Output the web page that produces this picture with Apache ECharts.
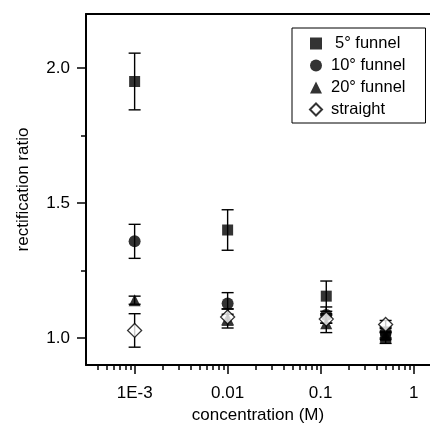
<!DOCTYPE html>
<html><head><meta charset="utf-8">
<script src="https://cdn.jsdelivr.net/npm/echarts@6/dist/echarts.min.js"></script>
<style>html,body{margin:0;padding:0;background:#fff}#c{width:430px;height:437px}</style>
</head><body><div id="c"></div>
<script>
// concentration (M)
const concentrations = [0.001, 0.01, 0.115, 0.5];
// rectification ratio values and error half-widths
const funnel5 = [1.95, 1.40, 1.155, 1.00];
const funnel5Err = [0.105, 0.075, 0.056, 0.02];
const funnel10 = [1.358, 1.128, 1.085, 1.02];
const funnel10Err = [0.063, 0.04, 0.03, 0.02];
const funnel20 = [1.14, 1.072, 1.055, 1.01];
const funnel20Err = [0.015, 0.035, 0.035, 0.015];
const straight = [1.028, 1.078, 1.07, 1.05];
const straightErr = [0.062, 0.03, 0.015, 0.015];
// ticks
const xMajorTicks = [0.001, 0.01, 0.1, 1];
const xTickLabels = ['1E-3', '0.01', '0.1', '1'];
const xMinorTicks = [0.0004, 0.0005, 0.0006, 0.0007, 0.0008, 0.0009,
  0.002, 0.003, 0.004, 0.005, 0.006, 0.007, 0.008, 0.009,
  0.02, 0.03, 0.04, 0.05, 0.06, 0.07, 0.08, 0.09,
  0.2, 0.3, 0.4, 0.5, 0.6, 0.7, 0.8, 0.9];
const yMajorTicks = [1.0, 1.5, 2.0];
const yMinorTicks = [1.25, 1.75];

const FONT = 'Liberation Sans, Arial, sans-serif';
const chart = echarts.init(document.getElementById('c'), null, {renderer: 'canvas'});

function errSeries(vals, errs) {
  return {
    type: 'custom', xAxisIndex: 0, yAxisIndex: 0, z: 1, silent: true,
    data: concentrations.map((c, i) => [c, vals[i] - errs[i], vals[i] + errs[i]]),
    encode: {x: 0, y: [1, 2]},
    renderItem: function (params, api) {
      const lo = api.coord([api.value(0), api.value(1)]);
      const hi = api.coord([api.value(0), api.value(2)]);
      const w = 6;
      const st = {stroke: '#000', lineWidth: 1.4};
      return {type: 'group', children: [
        {type: 'line', shape: {x1: lo[0], y1: lo[1], x2: hi[0], y2: hi[1]}, style: st},
        {type: 'line', shape: {x1: lo[0] - w, y1: lo[1], x2: lo[0] + w, y2: lo[1]}, style: st},
        {type: 'line', shape: {x1: hi[0] - w, y1: hi[1], x2: hi[0] + w, y2: hi[1]}, style: st}
      ]};
    }
  };
}
function pts(vals) { return concentrations.map((c, i) => [c, vals[i]]); }

function labelFor(v) {
  let best = 0, bd = Infinity;
  xMajorTicks.forEach((t, i) => { const d = Math.abs(Math.log10(v) - Math.log10(t)); if (d < bd) { bd = d; best = i; } });
  return bd < 1e-6 ? xTickLabels[best] : '';
}

const axisLineStyle = {color: '#000', width: 2};
const option = {
  animation: false,
  backgroundColor: '#fff',
  grid: {left: 86, top: 14, width: 353, height: 351, containLabel: false},
  xAxis: [
    {type: 'log', logBase: 10, min: 0.0003, max: 1.5, position: 'bottom',
      axisLine: {show: true, lineStyle: axisLineStyle},
      axisTick: {show: true, customValues: xMajorTicks, length: 9, lineStyle: {color: '#000', width: 1.5}},
      axisLabel: {customValues: xMajorTicks, formatter: labelFor, fontSize: 17, color: '#000', margin: 20, fontFamily: FONT},
      splitLine: {show: false}, minorTick: {show: false},
      name: 'concentration (M)', nameLocation: 'middle', nameGap: 35,
      nameTextStyle: {fontSize: 17, color: '#000', fontFamily: FONT}
    },
    {type: 'log', logBase: 10, min: 0.0003, max: 1.5, position: 'bottom',
      axisLine: {show: false},
      axisTick: {show: true, customValues: xMinorTicks, length: 5, lineStyle: {color: '#000', width: 1.5}},
      axisLabel: {show: false}, splitLine: {show: false}
    },
    {type: 'log', logBase: 10, min: 0.0003, max: 1.5, position: 'top',
      axisLine: {show: true, lineStyle: axisLineStyle},
      axisTick: {show: false}, axisLabel: {show: false}, splitLine: {show: false}
    }
  ],
  yAxis: [
    {type: 'value', min: 0.9, max: 2.2, position: 'left',
      axisLine: {show: true, lineStyle: axisLineStyle},
      axisTick: {show: true, customValues: yMajorTicks, length: 9, lineStyle: {color: '#000', width: 1.5}},
      axisLabel: {customValues: yMajorTicks, formatter: v => v.toFixed(1), fontSize: 17, color: '#000', margin: 16, fontFamily: FONT},
      splitLine: {show: false},
      name: 'rectification ratio', nameLocation: 'middle', nameGap: 54,
      nameTextStyle: {fontSize: 17, color: '#000', fontFamily: FONT}
    },
    {type: 'value', min: 0.9, max: 2.2, position: 'left',
      axisLine: {show: false},
      axisTick: {show: true, customValues: yMinorTicks, length: 5, lineStyle: {color: '#000', width: 1.5}},
      axisLabel: {show: false}, splitLine: {show: false}
    }
  ],
  legend: {
    orient: 'vertical', left: 292, top: 28,
    padding: [7, 20, 5, 17], itemGap: 5, itemWidth: 12, itemHeight: 12,
    borderColor: '#000', borderWidth: 1, backgroundColor: '#fff',
    textStyle: {fontSize: 16.5, color: '#000', fontFamily: FONT, padding: [0, 0, 0, 4]},
    data: [
      {name: '5° funnel', icon: 'rect', textStyle: {padding: [0, 0, 0, 8]}},
      {name: '10° funnel', icon: 'circle'},
      {name: '20° funnel', icon: 'triangle'},
      {name: 'straight', icon: 'diamond'}
    ]
  },
  series: [
    errSeries(funnel5, funnel5Err),
    errSeries(funnel10, funnel10Err),
    errSeries(funnel20, funnel20Err),
    errSeries(straight, straightErr),
    {name: '5° funnel', type: 'scatter', z: 3, symbol: 'rect', symbolSize: 11, data: pts(funnel5), itemStyle: {color: '#000'}},
    {name: '10° funnel', type: 'scatter', z: 3, symbol: 'circle', symbolSize: 12, data: pts(funnel10), itemStyle: {color: '#000'}},
    {name: '20° funnel', type: 'scatter', z: 3, symbol: 'triangle', symbolSize: 12, data: pts(funnel20), itemStyle: {color: '#000'}},
    {name: 'straight', type: 'scatter', z: 4, symbol: 'diamond', symbolSize: 14, data: pts(straight), itemStyle: {color: '#fff', borderColor: '#000', borderWidth: 1.3}}
  ]
};
chart.setOption(option);
</script>
</body></html>
